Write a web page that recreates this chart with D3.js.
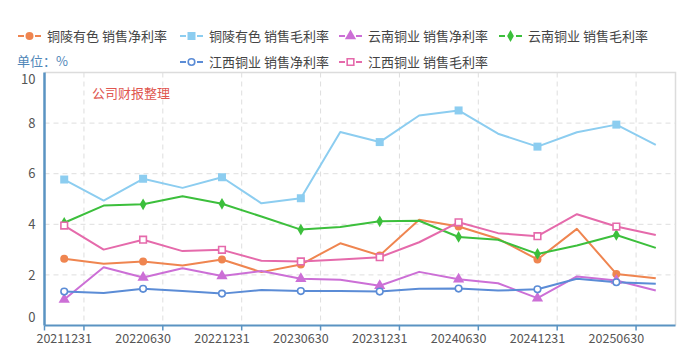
<!DOCTYPE html>
<html>
<head>
<meta charset="utf-8">
<script src="https://cdn.jsdelivr.net/npm/d3@7"></script>
<style>
    body { margin: 0; background: #fff; }
    svg text { font-family: "Noto Sans CJK SC", "Noto Sans", sans-serif; }
</style>
</head>
<body>
<div id="chart"></div>
<script>

//******************************************************************************
//**  Data
//******************************************************************************
var categories = ["20211231","20220331","20220630","20220930","20221231","20230331",
    "20230630","20230930","20231231","20240331","20240630","20240930",
    "20241231","20250331","20250630","20250930"];

var tlNet   = [2.64,2.44,2.53,2.37,2.61,2.11,2.41,3.25,2.77,4.18,3.91,3.43,2.61,3.82,2.04,1.87];
var tlGross = [5.77,4.94,5.80,5.44,5.86,4.83,5.03,7.65,7.25,8.30,8.50,7.58,7.07,7.64,7.94,7.14];
var ynNet   = [1.03,2.30,1.90,2.26,1.96,2.15,1.85,1.81,1.57,2.12,1.83,1.67,1.08,1.94,1.78,1.38];
var ynGross = [4.06,4.74,4.79,5.11,4.81,4.31,3.79,3.89,4.12,4.14,3.50,3.39,2.83,3.16,3.58,3.07];
var jxNet   = [1.34,1.28,1.45,1.36,1.26,1.40,1.36,1.36,1.34,1.45,1.46,1.38,1.43,1.85,1.71,1.65];
var jxGross = [3.95,3.00,3.39,2.94,2.99,2.56,2.53,2.61,2.70,3.29,4.08,3.65,3.53,4.40,3.91,3.58];

var yTicks = [0,2,4,6,8,10];

var series = [
    {name:"铜陵有色 销售净利率", values:tlNet,   color:"#ef8550", symbol:d3.symbolCircle,   size:50, hollow:false},
    {name:"铜陵有色 销售毛利率", values:tlGross, color:"#8ccdf0", symbol:d3.symbolSquare,   size:64, hollow:false},
    {name:"云南铜业 销售净利率", values:ynNet,   color:"#cc6fd6", symbol:d3.symbolTriangle, size:55, hollow:false},
    {name:"云南铜业 销售毛利率", values:ynGross, color:"#3cbf3c", symbol:d3.symbolDiamond,  size:40, hollow:false},
    {name:"江西铜业 销售净利率", values:jxNet,   color:"#5b8cd6", symbol:d3.symbolCircle,   size:34, hollow:true},
    {name:"江西铜业 销售毛利率", values:jxGross, color:"#e56aab", symbol:d3.symbolSquare,   size:44, hollow:true}
];


//******************************************************************************
//**  Chart
//******************************************************************************
var width = 692, height = 353;
var margin = {top: 72.5, right: 16.5, bottom: 27.5, left: 44.5};

var svg = d3.select("#chart").append("svg")
    .attr("width", width)
    .attr("height", height);

var x = d3.scaleBand()
    .domain(categories)
    .range([margin.left, width - margin.right])
    .padding(0);

var y = d3.scaleLinear()
    .domain([0, 10])
    .range([height - margin.bottom, margin.top]);

var xc = function(d){ return x(d) + x.bandwidth()/2; };

var plotTop = y(10), plotBottom = y(0);
var plotLeft = x.range()[0], plotRight = x.range()[1];

//** Border (top/right)
svg.append("path")
    .attr("d", "M" + plotLeft + "," + plotTop + "H" + plotRight + "V" + plotBottom)
    .attr("fill", "none")
    .attr("stroke", "#dcdcdc")
    .attr("stroke-width", 1.5);

//** Grid lines
var grid = svg.append("g");
grid.selectAll(".hgrid")
    .data(yTicks.filter(function(d){ return d > 0 && d < 10; }))
    .enter().append("line")
    .attr("x1", plotLeft).attr("x2", plotRight)
    .attr("y1", function(d){ return y(d); })
    .attr("y2", function(d){ return y(d); })
    .attr("stroke", "#dedede")
    .attr("stroke-dasharray", "5,4");

var boundaries = categories.filter(function(d, i){ return i % 2 === 0 && i < categories.length - 1; })
    .map(function(d){ return x(d) + x.bandwidth(); });

grid.selectAll(".vgrid")
    .data(boundaries)
    .enter().append("line")
    .attr("x1", function(d){ return d; })
    .attr("x2", function(d){ return d; })
    .attr("y1", plotTop).attr("y2", plotBottom)
    .attr("stroke", "#dedede")
    .attr("stroke-dasharray", "5,4");

//** Y axis
var yAxis = svg.append("g")
    .attr("transform", "translate(" + plotLeft + ",0)")
    .call(d3.axisLeft(y).tickValues(yTicks).tickSize(0).tickPadding(9));
yAxis.select(".domain").remove();
yAxis.selectAll("text")
    .attr("fill", "#555")
    .style("font-size", "13px")
    .attr("dy", function(d){
        if (d === 10) return "0.85em";
        if (d === 0) return "-0.28em";
        return "0.32em";
    });

//** X axis
var xAxis = svg.append("g")
    .attr("transform", "translate(0," + plotBottom + ")")
    .call(d3.axisBottom(x)
        .tickValues(categories.filter(function(d, i){ return i % 2 === 0; }))
        .tickSize(0).tickPadding(9));
xAxis.select(".domain").remove();
xAxis.selectAll("text")
    .attr("fill", "#555")
    .style("font-size", "12.5px");

svg.selectAll(".xtick")
    .data([plotLeft].concat(boundaries))
    .enter().append("line")
    .attr("x1", function(d){ return d; })
    .attr("x2", function(d){ return d; })
    .attr("y1", plotBottom).attr("y2", plotBottom + 5)
    .attr("stroke", "#5a93c2")
    .attr("stroke-width", 1.5);

svg.append("line")
    .attr("x1", plotLeft).attr("x2", plotRight)
    .attr("y1", plotBottom).attr("y2", plotBottom)
    .attr("stroke", "#5a93c2")
    .attr("stroke-width", 2);

svg.append("line")
    .attr("x1", plotLeft).attr("x2", plotLeft)
    .attr("y1", plotTop).attr("y2", plotBottom)
    .attr("stroke", "#5a93c2")
    .attr("stroke-width", 2.5);

//** Watermark
svg.append("text")
    .attr("x", 92).attr("y", 98)
    .attr("fill", "#e0564f")
    .style("font-size", "13px")
    .text("公司财报整理");

//** Unit label
svg.append("text")
    .attr("x", 17).attr("y", 66)
    .attr("fill", "#4f86b8")
    .style("font-size", "13px")
    .text("单位：%");

//** Lines
var line = d3.line()
    .x(function(d, i){ return xc(categories[i]); })
    .y(function(d){ return y(d); });

var lineArea = svg.append("g");
series.forEach(function(s){
    lineArea.append("path")
        .datum(s.values)
        .attr("d", line)
        .attr("fill", "none")
        .attr("stroke", s.color)
        .attr("stroke-width", 2)
        .attr("stroke-linejoin", "round");
});

series.forEach(function(s){
    var pts = s.values.map(function(v, i){ return {v:v, i:i}; })
        .filter(function(d){ return d.i % 2 === 0; });
    lineArea.selectAll(null)
        .data(pts)
        .enter().append("path")
        .attr("transform", function(d){
            return "translate(" + xc(categories[d.i]) + "," + y(d.v) + ")";
        })
        .attr("d", d3.symbol().type(s.symbol).size(s.size))
        .attr("fill", s.hollow ? "#fff" : s.color)
        .attr("stroke", s.color)
        .attr("stroke-width", s.hollow ? 1.6 : 0);
});

//** Legend
var legendPos = [[18,36],[180,36],[339,36],[499,36],[180,62],[339,62]];
var legend = svg.append("g");
series.forEach(function(s, i){
    var g = legend.append("g")
        .attr("transform", "translate(" + legendPos[i][0] + "," + legendPos[i][1] + ")");
    g.append("line").attr("x1", 0).attr("x2", 6).attr("y1", 0).attr("y2", 0)
        .attr("stroke", s.color).attr("stroke-width", 2);
    g.append("line").attr("x1", 17).attr("x2", 23).attr("y1", 0).attr("y2", 0)
        .attr("stroke", s.color).attr("stroke-width", 2);
    g.append("path")
        .attr("transform", "translate(11.5,0)")
        .attr("d", d3.symbol().type(s.symbol).size(s.size))
        .attr("fill", s.hollow ? "#fff" : s.color)
        .attr("stroke", s.color)
        .attr("stroke-width", s.hollow ? 1.6 : 0);
    g.append("text")
        .attr("x", 29).attr("y", 0).attr("dy", "0.35em")
        .attr("fill", "#444")
        .style("font-size", "13px")
        .text(s.name);
});

</script>
</body>
</html>
